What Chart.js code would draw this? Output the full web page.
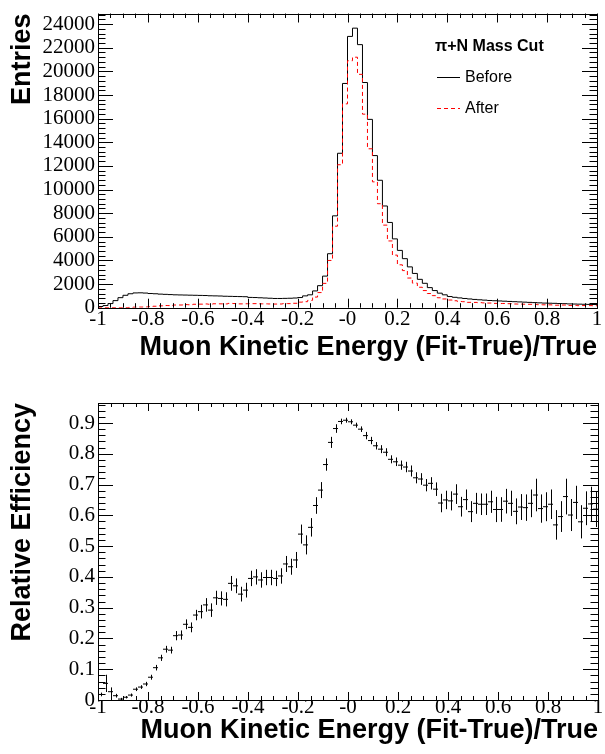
<!DOCTYPE html>
<html>
<head>
<meta charset="utf-8">
<script src="https://cdn.jsdelivr.net/npm/chart.js@4.4.1/dist/chart.umd.min.js"></script>
<style>
  html, body { margin: 0; padding: 0; background: #fff; }
  #histChart { position: absolute; left: 0; top: 0; }
  #effChart { position: absolute; left: 0; top: 372px; }
</style>
</head>
<body>
<canvas id="histChart" width="605" height="372"></canvas>
<canvas id="effChart" width="605" height="382"></canvas>
<script>
// 100 bins from -1 to 1
var binLow = -1;
var binWidth = 0.02;

var before = [
  100, 180, 350, 600, 850, 1050, 1180, 1250, 1260, 1240,
  1200, 1180, 1150, 1130, 1110, 1090, 1080, 1070, 1060, 1050,
  1040, 1030, 1010, 1000, 990, 970, 960, 950, 940, 930,
  870, 860, 840, 820, 800, 780, 780, 790, 800, 820,
  860, 1000, 1090, 1420, 1865, 2675, 4570, 7775, 13070, 18980,
  22960, 23660, 22265, 19060, 15940, 12875, 10785, 8610, 7215, 5825,
  4850, 4150, 3455, 2900, 2400, 2065, 1700, 1450, 1230, 1090,
  945, 880, 830, 780, 740, 700, 670, 640, 610, 590,
  570, 550, 530, 510, 490, 470, 450, 430, 410, 390,
  380, 370, 350, 340, 320, 310, 300, 290, 280, 270
];

var after = [
  2, 8, 9, 8, 3, 10, 20, 44, 53, 64,
  89, 124, 158, 186, 180, 228, 228, 263, 250, 290,
  300, 318, 295, 332, 327, 318, 364, 353, 323, 332,
  344, 344, 328, 326, 318, 308, 314, 349, 346, 373,
  470, 510, 620, 900, 1280, 2060, 4000, 6900, 12100, 17250,
  20900, 21200, 19750, 16380, 13450, 10650, 8800, 6990, 5650, 4450,
  3630, 3140, 2510, 2080, 1730, 1450, 1200, 1020, 840, 740,
  650, 589, 521, 508, 453, 447, 426, 407, 393, 365,
  353, 355, 339, 313, 307, 294, 288, 286, 255, 245,
  242, 210, 209, 225, 192, 199, 174, 181, 178, 167
];

var efficiency = [
  0.018, 0.054, 0.027, 0.014, 0.003, 0.009, 0.016, 0.035, 0.042, 0.052,
  0.074, 0.105, 0.137, 0.165, 0.162, 0.209, 0.211, 0.246, 0.236, 0.276,
  0.287, 0.309, 0.292, 0.332, 0.330, 0.327, 0.379, 0.371, 0.344, 0.357,
  0.395, 0.400, 0.390, 0.398, 0.398, 0.395, 0.403, 0.442, 0.433, 0.455,
  0.539, 0.504, 0.561, 0.632, 0.682, 0.765, 0.837, 0.882, 0.905, 0.909,
  0.904, 0.893, 0.880, 0.859, 0.843, 0.826, 0.815, 0.805, 0.782, 0.774,
  0.763, 0.757, 0.744, 0.722, 0.718, 0.698, 0.704, 0.685, 0.640, 0.650,
  0.647, 0.669, 0.628, 0.651, 0.612, 0.639, 0.636, 0.636, 0.644, 0.619,
  0.619, 0.646, 0.639, 0.613, 0.627, 0.625, 0.639, 0.666, 0.622, 0.628,
  0.636, 0.569, 0.596, 0.661, 0.601, 0.642, 0.579, 0.623, 0.637, 0.620
];

var effError = [
  0.006, 0.028, 0.014, 0.006, 0.004, 0.004, 0.005, 0.006, 0.006, 0.007,
  0.008, 0.009, 0.010, 0.011, 0.011, 0.015, 0.015, 0.016, 0.016, 0.017,
  0.022, 0.022, 0.022, 0.023, 0.023, 0.023, 0.024, 0.024, 0.024, 0.024,
  0.025, 0.025, 0.025, 0.025, 0.025, 0.025, 0.025, 0.026, 0.026, 0.026,
  0.031, 0.031, 0.030, 0.027, 0.026, 0.020, 0.018, 0.014, 0.009, 0.008,
  0.008, 0.008, 0.009, 0.012, 0.012, 0.012, 0.013, 0.013, 0.013, 0.014,
  0.015, 0.017, 0.018, 0.018, 0.019, 0.020, 0.020, 0.022, 0.030, 0.030,
  0.031, 0.032, 0.032, 0.033, 0.034, 0.034, 0.035, 0.035, 0.036, 0.041,
  0.040, 0.040, 0.041, 0.042, 0.042, 0.043, 0.045, 0.053, 0.046, 0.047,
  0.048, 0.048, 0.050, 0.058, 0.052, 0.054, 0.054, 0.055, 0.056, 0.058
];

var xTicks = [-1, -0.8, -0.6, -0.4, -0.2, 0, 0.2, 0.4, 0.6, 0.8, 1];
var xTickLabels = ["-1", "-0.8", "-0.6", "-0.4", "-0.2", "-0", "0.2", "0.4", "0.6", "0.8", "1"];
var entriesTicks = [0, 2000, 4000, 6000, 8000, 10000, 12000, 14000, 16000, 18000, 20000, 22000, 24000];
var entriesTickLabels = ["0", "2000", "4000", "6000", "8000", "10000", "12000", "14000", "16000", "18000", "20000", "22000", "24000"];
var effTicks = [0, 0.1, 0.2, 0.3, 0.4, 0.5, 0.6, 0.7, 0.8, 0.9];
var effTickLabels = ["0", "0.1", "0.2", "0.3", "0.4", "0.5", "0.6", "0.7", "0.8", "0.9"];

var xTitle = "Muon Kinetic Energy (Fit-True)/True";
var serif = '"Liberation Serif", "Times New Roman", serif';
var sans = '"Liberation Sans", Arial, Helvetica, sans-serif';

Chart.defaults.font.family = serif;
Chart.defaults.color = '#000';

function histPoints(values) {
    var pts = values.map(function (v, i) {
        return { x: binLow + i * binWidth, y: v };
    });
    pts.push({ x: binLow + values.length * binWidth, y: values[values.length - 1] });
    return pts;
}

// ROOT style frame: box + inward ticks on all four sides
var rootFrame = {
    id: 'rootFrame',
    afterDraw: function (chart, args, opts) {
        var ctx = chart.ctx, a = chart.chartArea;
        var sx = chart.scales.x, sy = chart.scales.y;
        ctx.save();
        ctx.strokeStyle = '#000';
        ctx.lineWidth = 1;
        ctx.beginPath();
        var n = Math.round((sx.max - sx.min) / opts.xMinor);
        for (var i = 0; i <= n; i++) {
            var px = Math.round(sx.getPixelForValue(sx.min + i * opts.xMinor)) + 0.5;
            var len = (i % opts.xPer === 0) ? opts.xLen : opts.xLen / 2;
            ctx.moveTo(px, a.bottom); ctx.lineTo(px, a.bottom - len);
            ctx.moveTo(px, a.top); ctx.lineTo(px, a.top + len);
        }
        var m = Math.floor((sy.max - sy.min) / opts.yMinor + 1e-6);
        for (var j = 0; j <= m; j++) {
            var py = Math.round(sy.getPixelForValue(sy.min + j * opts.yMinor)) + 0.5;
            var l = (j % opts.yPer === 0) ? opts.yLen : opts.yLen / 2;
            ctx.moveTo(a.left, py); ctx.lineTo(a.left + l, py);
            ctx.moveTo(a.right, py); ctx.lineTo(a.right - l, py);
        }
        ctx.stroke();
        ctx.strokeRect(Math.round(a.left) + 0.5, Math.round(a.top) + 0.5,
            Math.round(a.right - a.left), Math.round(a.bottom - a.top));
        ctx.restore();
    }
};

var massCutLegend = {
    id: 'massCutLegend',
    afterDraw: function (chart, args, opts) {
        var ctx = chart.ctx;
        ctx.save();
        ctx.fillStyle = '#000';
        ctx.textBaseline = 'middle';
        ctx.font = 'bold 16px ' + sans;
        ctx.fillText(opts.title, opts.x, opts.y);
        ctx.font = '16px ' + sans;
        chart.data.datasets.forEach(function (ds, i) {
            var yy = opts.y + 30 + i * 31;
            ctx.strokeStyle = ds.borderColor;
            ctx.lineWidth = 1;
            ctx.setLineDash(ds.borderDash || []);
            ctx.beginPath();
            ctx.moveTo(opts.x + 2, yy + 0.5);
            ctx.lineTo(opts.x + 25, yy + 0.5);
            ctx.stroke();
            ctx.fillText(ds.label, opts.x + 30, yy + 1);
        });
        ctx.restore();
    }
};

var errorBars = {
    id: 'errorBars',
    afterDatasetsDraw: function (chart) {
        var ctx = chart.ctx, sx = chart.scales.x, sy = chart.scales.y;
        ctx.save();
        ctx.strokeStyle = '#000';
        ctx.lineWidth = 1;
        ctx.beginPath();
        efficiency.forEach(function (v, i) {
            var px = Math.round(sx.getPixelForValue(binLow + (i + 0.5) * binWidth)) + 0.5;
            ctx.moveTo(px, sy.getPixelForValue(v - effError[i]));
            ctx.lineTo(px, sy.getPixelForValue(v + effError[i]));
        });
        ctx.stroke();
        ctx.restore();
    }
};

var noGrid = { display: false, drawTicks: false, tickLength: 0 };

function xAxis(height, labelPad, titlePad) {
    return {
        type: 'linear', min: -1, max: 1,
        grid: noGrid, border: { display: false },
        afterBuildTicks: function (s) { s.ticks = xTicks.map(function (v) { return { value: v }; }); },
        afterFit: function (s) { s.height = height; },
        ticks: {
            autoSkip: false, maxRotation: 0, padding: labelPad,
            font: { size: 21, family: serif, lineHeight: 1 },
            callback: function (v, i) { return xTickLabels[i]; }
        },
        title: {
            display: true, text: xTitle, align: 'end',
            font: { size: 27, weight: 'bold', family: sans, lineHeight: 1 },
            padding: { top: 0, bottom: titlePad }
        }
    };
}

function yAxis(max, ticks, labels, title) {
    return {
        min: 0, max: max,
        grid: noGrid, border: { display: false },
        afterBuildTicks: function (s) { s.ticks = ticks.map(function (v) { return { value: v }; }); },
        afterFit: function (s) { s.width = 98; },
        ticks: {
            padding: 3, font: { size: 21, family: serif, lineHeight: 1 },
            callback: function (v, i) { return labels[i]; }
        },
        title: {
            display: true, text: title, align: 'end',
            font: { size: 27, weight: 'bold', family: sans, lineHeight: 1 },
            padding: { top: 9.5, bottom: 0 }
        }
    };
}

// top: entries before/after the cut
new Chart(document.getElementById('histChart').getContext('2d'), {
    type: 'line',
    data: {
        datasets: [{
            label: 'Before',
            data: histPoints(before),
            borderColor: '#000000',
            borderWidth: 1,
            stepped: 'before',
            pointRadius: 0,
            fill: false,
            order: 1
        }, {
            label: 'After',
            data: histPoints(after),
            borderColor: '#ff0000',
            borderWidth: 1,
            borderDash: [4, 3],
            stepped: 'before',
            pointRadius: 0,
            fill: false,
            order: 0
        }]
    },
    options: {
        responsive: false,
        animation: false,
        events: [],
        layout: { padding: { top: 10, right: 8, left: 0, bottom: 0 } },
        plugins: {
            legend: { display: false },
            tooltip: { enabled: false },
            rootFrame: { xMinor: 0.05, xPer: 4, xLen: 9, yMinor: 400, yPer: 5, yLen: 15 },
            massCutLegend: { title: 'π+N Mass Cut', x: 435, y: 47 }
        },
        scales: {
            x: xAxis(64.3, 1, 10.5),
            y: yAxis(24900, entriesTicks, entriesTickLabels, 'Entries')
        }
    },
    plugins: [rootFrame, massCutLegend]
});

// bottom: relative efficiency of the cut
new Chart(document.getElementById('effChart').getContext('2d'), {
    type: 'scatter',
    data: {
        datasets: [{
            label: 'Relative Efficiency',
            data: efficiency.map(function (v, i) {
                return { x: binLow + (i + 0.5) * binWidth, y: v };
            }),
            pointStyle: 'line',
            pointRadius: 2.5,
            borderColor: '#000000',
            borderWidth: 1,
            showLine: false
        }]
    },
    options: {
        responsive: false,
        animation: false,
        events: [],
        layout: { padding: { top: 31, right: 7, left: 0, bottom: 0 } },
        plugins: {
            legend: { display: false },
            tooltip: { enabled: false },
            rootFrame: { xMinor: 0.05, xPer: 4, xLen: 8, yMinor: 0.02, yPer: 5, yLen: 15 }
        },
        scales: {
            x: xAxis(54, -3, 10),
            y: yAxis(0.965, effTicks, effTickLabels, 'Relative Efficiency')
        }
    },
    plugins: [rootFrame, errorBars]
});
</script>
</body>
</html>
